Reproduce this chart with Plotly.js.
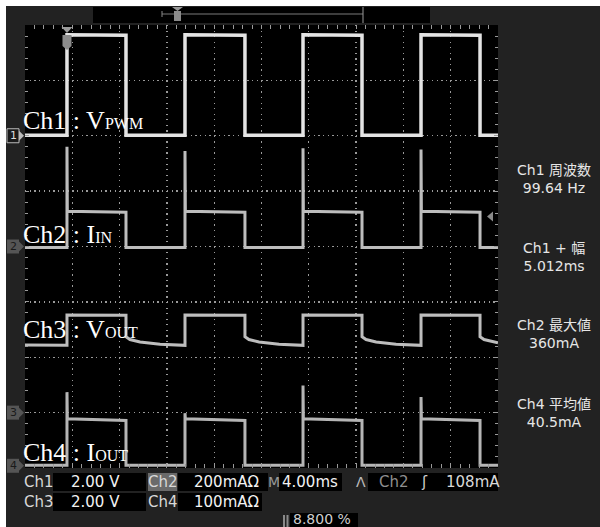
<!DOCTYPE html>
<html><head><meta charset="utf-8">
<script src="https://cdn.plot.ly/plotly-3.0.1.min.js"></script>
<style>
html,body{margin:0;padding:0;background:#ffffff;width:600px;height:527px;overflow:hidden}
#chart{position:absolute;left:6px;top:6px;width:594px;height:521px}
</style>
</head><body><div id="chart"></div>
<script>
// ---------------- data ----------------
// time in ms, 4.00 ms/div, 10 divisions
const ch1Time  = [0, 3.55, 3.55, 8.54, 8.54, 13.53, 13.53, 18.60, 18.60, 23.51, 23.51, 28.50, 28.50, 33.49, 33.49, 38.48, 38.48, 40];
const ch1Volts = [0.02, 0.02, 3.65, 3.63, 0.02, 0.02, 3.65, 3.63, 0.02, 0.02, 3.65, 3.63, 0.02, 0.02, 3.65, 3.63, 0.02, 0.02];

const ch2Time = [0, 3.55, 3.55, 3.58, 8.54, 8.54, 13.53, 13.53, 13.56, 18.60, 18.60, 23.51, 23.51, 23.54, 28.50, 28.50, 33.49, 33.49, 33.52, 38.48, 38.48, 40];
const ch2mA   = [-4, -4, 360, 127, 124, -4, -4, 345, 127, 124, -4, -4, 355, 127, 124, -4, -4, 350, 127, 124, -4, -4];

const ch3Time  = [0, 3.55, 3.55,
                  8.54, 8.54, 8.88, 9.73, 11.42, 13.53, 13.53,
                  18.60, 18.60, 18.94, 19.79, 21.48, 23.51, 23.51,
                  28.50, 28.50, 28.84, 29.69, 31.38, 33.49, 33.49,
                  38.48, 38.48, 38.82, 39.67, 40];
const ch3Volts = [2.44, 2.43, 3.53,
                  3.52, 2.74, 2.64, 2.55, 2.47, 2.43, 3.53,
                  3.52, 2.74, 2.64, 2.55, 2.47, 2.43, 3.53,
                  3.52, 2.74, 2.64, 2.55, 2.47, 2.43, 3.53,
                  3.52, 2.74, 2.64, 2.55, 2.52];

const ch4Time = [0, 3.55, 3.55, 3.58, 8.54, 8.54, 13.53, 13.53, 13.56, 18.60, 18.60, 23.51, 23.51, 23.54, 28.50, 28.50, 33.49, 33.49, 33.52, 38.48, 38.48, 40];
const ch4mA   = [1, 1, 133, 85, 82, 1, 1, 95, 85, 82, 1, 1, 145, 85, 82, 1, 1, 124, 85, 82, 1, 1];

// channel labels
const channelNames = ['Ch1', 'Ch2', 'Ch3', 'Ch4'];
const signalMain   = ['V', 'I', 'V', 'I'];
const signalSub    = ['PWM', 'IN', 'OUT', 'OUT'];

// measurement readouts
const measTitles = ['Ch1 周波数', 'Ch1 + 幅', 'Ch2 最大値', 'Ch4 平均値'];
const measValues = ['99.64 Hz', '5.012ms', '360mA', '40.5mA'];

// vertical settings
const scaleChannels = ['Ch1', 'Ch3'];
const scaleValues13 = ['2.00 V', '2.00 V'];
const scaleChannels24 = ['Ch2', 'Ch4'];
const scaleValues24 = ['200mAΩ', '100mAΩ'];
const timebase = '4.00ms';
const triggerSource = 'Ch2';
const triggerLevelText = '108mA';
const triggerLevel = 108;      // mA on Ch2
const triggerTime = 3.55;      // ms
const recordPos = '8.800 %';

// axis ranges: each channel on its own overlaid axis (8 divisions)
const xRange = [0, 40];
const ch1Range = [-12, 4];
const ch2Range = [-800, 800];
const ch3Range = [-2, 14];
const ch4Range = [-4, 796];

// ---------------- layout helpers (page pixel -> paper) ----------------
const L0 = 25, T0 = 25, W0 = 473, H0 = 443;
const px = x => (x - L0) / W0;
const py = y => (T0 + H0 - y) / H0;
const zeroY = r => T0 + H0 - H0 * (0 - r[0]) / (r[1] - r[0]);
const valY = (r, v) => T0 + H0 - H0 * (v - r[0]) / (r[1] - r[0]);
const valX = t => L0 + W0 * (t - xRange[0]) / (xRange[1] - xRange[0]);

const shapes = [];
const annotations = [];
function rect(x0, y0, x1, y1, fill, lineColor, lw) {
  shapes.push({type: 'rect', xref: 'paper', yref: 'paper', x0: px(x0), x1: px(x1), y0: py(y1), y1: py(y0),
    fillcolor: fill, line: {width: lw || 0, color: lineColor || fill}, layer: 'above'});
}
function path(pts, fill) {
  const d = pts.map((p, i) => (i ? 'L' : 'M') + px(p[0]) + ',' + py(p[1])).join(' ') + ' Z';
  shapes.push({type: 'path', xref: 'paper', yref: 'paper', path: d, fillcolor: fill, line: {width: 0}, layer: 'above'});
}
function line(x0, y0, x1, y1, color, w) {
  shapes.push({type: 'line', xref: 'paper', yref: 'paper', x0: px(x0), x1: px(x1), y0: py(y0), y1: py(y1),
    line: {color: color, width: w || 1}, layer: 'above'});
}
function txt(text, x, y, o) {
  o = o || {};
  annotations.push({text: text, xref: 'paper', yref: 'paper', x: px(x), y: py(y), showarrow: false,
    xanchor: o.xa || 'center', yanchor: 'middle', borderpad: 0,
    font: {family: o.family || 'DejaVu Sans', size: o.size || 14, color: o.color || '#e0e0e0'},
    bgcolor: o.bg, bordercolor: o.bc, borderwidth: o.bw || 0});
}

// top record bar
rect(93, 7, 430, 23, '#000000');
line(162, 14, 363, 14, '#7a7a7a', 1);
line(162, 11, 162, 17, '#8a8a8a', 1);
line(363, 7, 363, 23, '#9a9a9a', 1);
path([[172, 7], [183, 7], [177.5, 11]], '#999999');
rect(174, 11, 181, 21, '#8a8a8a');

// trigger position marker on graticule
const tx = valX(triggerTime);
path([[tx - 5.5, 27], [tx + 5.5, 27], [tx, 33]], '#9a9a9a');
path([[tx - 4.5, 35], [tx + 4.5, 35], [tx + 4.5, 46], [tx, 50], [tx - 4.5, 46]], '#8c8c8c');

// trigger level marker (right edge)
const tly = valY(ch2Range, triggerLevel);
path([[487, tly], [493, tly - 5], [493, tly + 5]], '#8a8a8a');

// channel ground markers on the left
const ranges = [ch1Range, ch2Range, ch3Range, ch4Range];
ranges.forEach((r, i) => {
  const yc = zeroY(r);
  rect(7, yc - 7, 19, yc + 7, i === 0 ? '#1a1a1a' : '#555555', i === 0 ? '#bbbbbb' : '#555555', i === 0 ? 1 : 0);
  path([[19, yc - 5], [24, yc], [19, yc + 5]], i === 0 ? '#bbbbbb' : '#555555');
  txt(String(i + 1), 13, yc, {size: 11, color: i === 0 ? '#dddddd' : '#1a1a1a', family: 'DejaVu Sans'});
});

// channel name labels on the trace area
const labelY = [120, 234, 329.5, 452.5];
channelNames.forEach((c, i) => {
  txt(c + ' : ' + signalMain[i] + '<span style="font-size:16px">' + signalSub[i] + '</span>', 23, labelY[i],
    {xa: 'left', size: 26, color: '#ffffff', family: 'Liberation Serif'});
});

// measurement readouts on the right (title + value as two lines)
const measY = [179, 256.5, 334, 412.5];
measTitles.forEach((m, i) => {
  txt(m + '<br>' + measValues[i], 554, measY[i], {size: 14, color: '#e6e6e6', family: 'DejaVu Sans, Noto Sans CJK JP'});
});

// bottom status boxes
const rowY = [482, 502];
rect(53, 473, 146, 491, '#000000');
rect(53, 493, 146, 511, '#000000');
rect(148, 473, 177, 491, '#6a6a6a');
rect(178, 473, 268, 491, '#000000');
rect(178, 493, 262, 511, '#000000');
rect(279, 473, 342, 491, '#000000');
rect(368, 473, 498, 491, '#000000');
rect(290, 513, 358, 527, '#000000');
rect(283, 515, 285, 527, '#8a8a8a');
rect(286.5, 515, 288.5, 527, '#8a8a8a');

scaleChannels.forEach((c, i) => {
  txt(c, 24, rowY[i], {xa: 'left', size: 15, color: '#d8d8d8'});
  txt(scaleValues13[i], 95, rowY[i], {size: 15, color: '#f2f2f2'});
});
scaleChannels24.forEach((c, i) => {
  txt(c, 163, rowY[i], {size: 15, color: '#d8d8d8'});
  txt(scaleValues24[i], 226, rowY[i], {size: 15, color: '#f2f2f2'});
});
txt('M', 274, rowY[0], {size: 14, color: '#9a9a9a'});
txt(timebase, 310, rowY[0], {size: 15, color: '#f2f2f2'});
txt('Λ', 361, rowY[0], {size: 14, color: '#bbbbbb'});
txt(triggerSource, 394, rowY[0], {size: 15, color: '#8e8e8e'});
txt('ʃ', 424, rowY[0], {size: 15, color: '#cccccc'});
txt(triggerLevelText, 473, rowY[0], {size: 15, color: '#d8d8d8'});
txt(recordPos, 322, 519, {size: 14, color: '#cfcfcf'});

// ---------------- traces ----------------
const traceStyle = (c, w) => ({color: c, width: w});
const data = [
  {x: ch1Time, y: ch1Volts, type: 'scatter', mode: 'lines', yaxis: 'y', line: traceStyle('#e4e4e4', 3.5), hoverinfo: 'skip'},
  {x: ch2Time, y: ch2mA, type: 'scatter', mode: 'lines', yaxis: 'y2', line: traceStyle('#bdbdbd', 3), hoverinfo: 'skip'},
  {x: ch3Time, y: ch3Volts, type: 'scatter', mode: 'lines', yaxis: 'y3', line: traceStyle('#bdbdbd', 3), hoverinfo: 'skip'},
  {x: ch4Time, y: ch4mA, type: 'scatter', mode: 'lines', yaxis: 'y4', line: traceStyle('#b5b5b5', 3), hoverinfo: 'skip'}
];

const gridC = '#9a9a9a';
const hidden = r => ({range: r, overlaying: 'y', visible: false, fixedrange: true});
const layout = {
  width: 594, height: 521,
  margin: {l: 19, t: 19, r: 102, b: 59, pad: 0},
  paper_bgcolor: '#222222', plot_bgcolor: '#000000',
  showlegend: false,
  xaxis: {range: xRange, dtick: 4, tick0: 0, showgrid: true, gridcolor: gridC, gridwidth: 1.3, griddash: '1.3px,4.24px',
    zeroline: false, showticklabels: false, ticks: 'inside', ticklen: 4, tickcolor: gridC, mirror: 'allticks',
    minor: {dtick: 0.8, ticks: 'inside', ticklen: 3, tickcolor: gridC, showgrid: false}, showline: false, fixedrange: true},
  yaxis: {range: ch1Range, dtick: 2, tick0: 0, showgrid: true, gridcolor: gridC, gridwidth: 1.3, griddash: '1.3px,3.43px',
    zeroline: false, showticklabels: false, ticks: 'inside', ticklen: 4, tickcolor: gridC, mirror: 'allticks',
    minor: {dtick: 0.4, ticks: 'inside', ticklen: 3, tickcolor: gridC, showgrid: false}, showline: false, fixedrange: true},
  yaxis2: hidden(ch2Range),
  yaxis3: hidden(ch3Range),
  yaxis4: hidden(ch4Range),
  // centre cross tick marks
  xaxis2: {range: xRange, overlaying: 'x', anchor: 'free', position: 0.5, side: 'bottom', dtick: 0.8, tick0: 0,
    ticks: 'outside', ticklen: 3, tickcolor: gridC, showgrid: false, zeroline: false, showline: false, showticklabels: false},
  xaxis3: {range: xRange, overlaying: 'x', anchor: 'free', position: 0.5, side: 'top', dtick: 0.8, tick0: 0,
    ticks: 'outside', ticklen: 3, tickcolor: gridC, showgrid: false, zeroline: false, showline: false, showticklabels: false},
  yaxis5: {range: [0, 8], overlaying: 'y', anchor: 'free', position: 0.5, side: 'left', dtick: 0.2, tick0: 0,
    ticks: 'outside', ticklen: 3, tickcolor: gridC, showgrid: false, zeroline: false, showline: false, showticklabels: false},
  yaxis6: {range: [0, 8], overlaying: 'y', anchor: 'free', position: 0.5, side: 'right', dtick: 0.2, tick0: 0,
    ticks: 'outside', ticklen: 3, tickcolor: gridC, showgrid: false, zeroline: false, showline: false, showticklabels: false},
  shapes: shapes,
  annotations: annotations
};

Plotly.newPlot('chart', data, layout, {displayModeBar: false, staticPlot: true});
</script>
</body></html>
